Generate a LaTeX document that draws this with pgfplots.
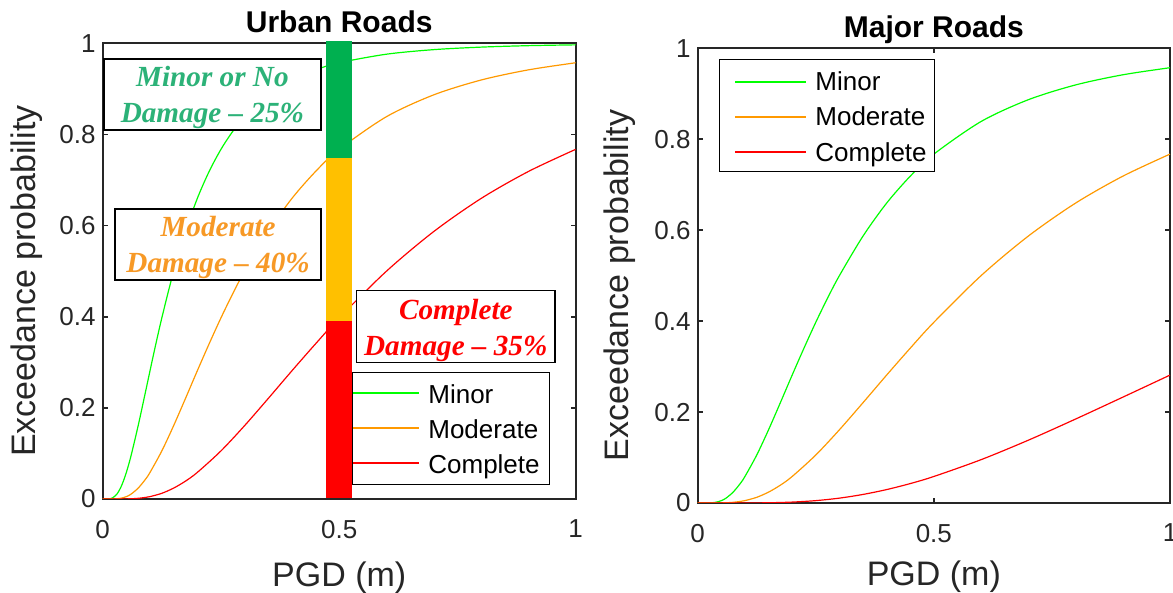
\documentclass[border=0pt]{standalone}
\usepackage{pgfplots}
\pgfplotsset{compat=1.18}
\usepackage{fontspec}
\setmainfont{Liberation Sans}
\newfontfamily\tnr{Liberation Serif}
\definecolor{axgray}{RGB}{38,38,38}
\definecolor{cgreen}{RGB}{0,255,0}
\definecolor{corange}{RGB}{255,153,0}
\definecolor{cred}{RGB}{255,0,0}
\definecolor{bgreen}{RGB}{0,176,80}
\definecolor{borange}{RGB}{255,192,0}
\definecolor{bred}{RGB}{255,0,0}
\definecolor{tgreen}{RGB}{44,178,120}
\definecolor{torange}{RGB}{247,153,38}
\definecolor{tred}{RGB}{255,0,0}

\tikzset{legtxt/.style={anchor=base west, inner sep=0pt, font=\fontsize{13}{13}\selectfont, text=black}}
\pgfplotsset{
  myax/.style={
    scale only axis,
    xmin=0, xmax=1, ymin=0, ymax=1,
    xtick={0,0.5,1}, ytick={0,0.2,0.4,0.6,0.8,1},
    axis line style={line width=1pt, color=axgray},
    every tick/.style={line width=0.8pt, color=axgray},
    tick align=inside, major tick length=2.5pt,
    /pgf/number format/assume math mode=true,
    tick label style={font=\fontsize{13}{13}\selectfont, color=axgray},
    xticklabel style={yshift=-7pt},
    label style={font=\fontsize{17}{17}\selectfont, color=axgray},
    title style={font=\bfseries\fontsize{15}{15}\selectfont, at={(axis description cs:0.5,1)}, anchor=base, yshift=-0.4pt},
    xlabel={PGD (m)}, ylabel={Exceedance probability},
  },
  cur/.style={line width=0.6pt, smooth}
}

\begin{document}
\begin{tikzpicture}[x=1pt,y=1pt]
\useasboundingbox (0,0) rectangle (586.5,296.5);
% ---------- Left: Urban Roads ----------
\begin{axis}[myax, at={(51.35pt,47pt)}, anchor=south west, width=236.5pt, height=227.85pt,
  title={Urban Roads},
  xlabel style={at={(axis description cs:0.5,-0.191)}, anchor=base},
  ylabel style={at={(axis description cs:-0.143,0.478)}, anchor=base}]
\addplot[cur, draw=cgreen] coordinates {(0,0) (0.01,0.00005) (0.015,0.0005) (0.02,0.0020) (0.03,0.0107) (0.04,0.0295) (0.05,0.0583) (0.06,0.0953) (0.075,0.161) (0.09,0.2327) (0.1,0.2813) (0.11,0.329) (0.125,0.3974) (0.15,0.5) (0.175,0.587) (0.2,0.6595) (0.225,0.7187) (0.25,0.7673) (0.275,0.8068) (0.3,0.839) (0.35,0.8869) (0.4,0.9194) (0.45,0.9417) (0.5,0.9573) (0.6,0.9761) (0.7,0.9861) (0.8,0.9916) (0.9,0.9948) (1.0,0.9966)};
\addplot[cur, draw=corange] coordinates {(0,0) (0.02,0.00005) (0.03,0.0005) (0.04,0.0020) (0.05,0.0052) (0.06,0.0107) (0.075,0.0239) (0.09,0.0427) (0.1,0.0583) (0.125,0.1055) (0.15,0.161) (0.175,0.2206) (0.2,0.2813) (0.225,0.3405) (0.25,0.3974) (0.275,0.4506) (0.3,0.5) (0.35,0.587) (0.4,0.6595) (0.45,0.7187) (0.5,0.7673) (0.6,0.839) (0.7,0.8869) (0.8,0.9194) (0.9,0.9417) (1.0,0.9573)};
\addplot[cur, draw=cred] coordinates {(0,0) (0.03,0.00001) (0.05,0.0002) (0.06,0.0005) (0.075,0.0015) (0.09,0.0034) (0.1,0.0052) (0.125,0.0125) (0.15,0.0239) (0.175,0.0392) (0.2,0.0583) (0.25,0.1055) (0.3,0.161) (0.35,0.2206) (0.4,0.2813) (0.45,0.3405) (0.5,0.3974) (0.6,0.5) (0.7,0.587) (0.8,0.6595) (0.9,0.7187) (1.0,0.7673)};
\end{axis}
% ---------- Overlay: bar, legend and annotation boxes ----------
\begin{axis}[at={(51.35pt,47pt)}, anchor=south west, width=236.5pt, height=227.85pt,
  scale only axis, xmin=0, xmax=1, ymin=0, ymax=1, hide axis, clip=false]
\addplot[fill=bgreen, draw=none] coordinates {(0.4721,0.748) (0.5277,0.748) (0.5277,1.005) (0.4721,1.005)} -- cycle;
\addplot[fill=borange, draw=none] coordinates {(0.4721,0.3906) (0.5277,0.3906) (0.5277,0.748) (0.4721,0.748)} -- cycle;
\addplot[fill=bred, draw=none] coordinates {(0.4721,0.003) (0.5277,0.003) (0.5277,0.3906) (0.4721,0.3906)} -- cycle;
% legend (its left part lies under the bar)
\draw[line width=0.5pt, draw=black, fill=white] (axis description cs:0.5277,0.278) rectangle (axis description cs:0.9442,0.0329);
\draw[line width=0.6pt, draw=cgreen] (axis description cs:0.5292,0.2326) -- (axis description cs:0.6693,0.2326);
\draw[line width=0.6pt, draw=corange] (axis description cs:0.5292,0.1558) -- (axis description cs:0.6693,0.1558);
\draw[line width=0.6pt, draw=cred] (axis description cs:0.5292,0.0790) -- (axis description cs:0.6693,0.0790);
\node[legtxt] at (axis description cs:0.6877,0.2100) {Minor};
\node[legtxt] at (axis description cs:0.6877,0.1332) {Moderate};
\node[legtxt] at (axis description cs:0.6877,0.0564) {Complete};
% annotation boxes
\draw[line width=0.75pt, fill=white] (axis cs:0.003,0.81) rectangle (axis cs:0.4615,0.9655);
\node[align=center, inner sep=0pt, text=tgreen, font=\tnr\bfseries\itshape\fontsize{14.6}{18}\selectfont] at (axis cs:0.232,0.881) {Minor or No\\Damage – 25\%};
\draw[line width=0.75pt, fill=white] (axis cs:0.026,0.481) rectangle (axis cs:0.4615,0.636);
\node[align=center, inner sep=0pt, text=torange, font=\tnr\bfseries\itshape\fontsize{14.6}{18}\selectfont] at (axis cs:0.244,0.551) {Moderate\\Damage – 40\%};
\draw[line width=0.75pt, fill=white] (axis cs:0.537,0.299) rectangle (axis cs:0.956,0.457);
\node[align=center, inner sep=0pt, text=tred, font=\tnr\bfseries\itshape\fontsize{14.6}{18}\selectfont] at (axis cs:0.7465,0.370) {Complete\\Damage – 35\%};
\end{axis}
% ---------- Right: Major Roads ----------
\begin{axis}[myax, at={(348.85pt,45pt)}, anchor=south west, width=236.15pt, height=227.35pt,
  title={Major Roads},
  xlabel style={at={(axis description cs:0.5,-0.1825)}, anchor=base},
  ylabel style={at={(axis description cs:-0.146,0.478)}, anchor=base}]
\addplot[cur, draw=cgreen] coordinates {(0,0) (0.02,0.00005) (0.03,0.0005) (0.04,0.0020) (0.05,0.0052) (0.06,0.0107) (0.075,0.0239) (0.09,0.0427) (0.1,0.0583) (0.125,0.1055) (0.15,0.161) (0.175,0.2206) (0.2,0.2813) (0.225,0.3405) (0.25,0.3974) (0.275,0.4506) (0.3,0.5) (0.35,0.587) (0.4,0.6595) (0.45,0.7187) (0.5,0.7673) (0.6,0.839) (0.7,0.8869) (0.8,0.9194) (0.9,0.9417) (1.0,0.9573)};
\addplot[cur, draw=corange] coordinates {(0,0) (0.03,0.00001) (0.05,0.0002) (0.06,0.0005) (0.075,0.0015) (0.09,0.0034) (0.1,0.0052) (0.125,0.0125) (0.15,0.0239) (0.175,0.0392) (0.2,0.0583) (0.25,0.1055) (0.3,0.161) (0.35,0.2206) (0.4,0.2813) (0.45,0.3405) (0.5,0.3974) (0.6,0.5) (0.7,0.587) (0.8,0.6595) (0.9,0.7187) (1.0,0.7673)};
\addplot[cur, draw=cred] coordinates {(0,0) (0.05,0) (0.075,0.00001) (0.1,0.00005) (0.15,0.0005) (0.2,0.0020) (0.25,0.0052) (0.3,0.0107) (0.35,0.0188) (0.4,0.0295) (0.45,0.0427) (0.5,0.0583) (0.6,0.0953) (0.7,0.1381) (0.8,0.1846) (0.9,0.2327) (1.0,0.2813)};
% legend
\draw[line width=0.5pt, draw=black, fill=white] (axis description cs:0.0466,0.9743) rectangle (axis description cs:0.5024,0.7286);
\draw[line width=0.6pt, draw=cgreen] (axis description cs:0.079,0.9259) -- (axis description cs:0.2293,0.9259);
\draw[line width=0.6pt, draw=corange] (axis description cs:0.079,0.8489) -- (axis description cs:0.2293,0.8489);
\draw[line width=0.6pt, draw=cred] (axis description cs:0.079,0.7719) -- (axis description cs:0.2293,0.7719);
\node[legtxt] at (axis description cs:0.2484,0.9061) {Minor};
\node[legtxt] at (axis description cs:0.2484,0.8291) {Moderate};
\node[legtxt] at (axis description cs:0.2484,0.7521) {Complete};
\end{axis}
\end{tikzpicture}
\end{document}
